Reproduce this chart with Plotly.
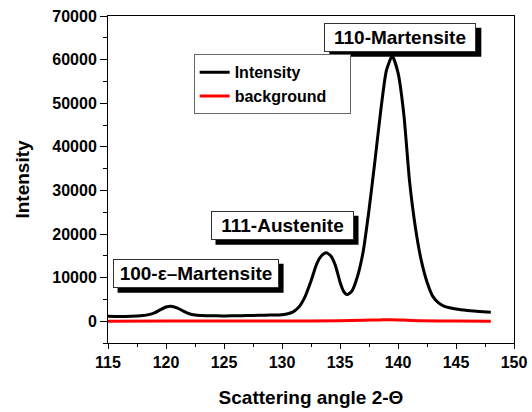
import plotly.graph_objects as go

angle = [115, 116, 117, 117.5, 118, 118.5, 119, 119.5, 120, 120.4, 121, 121.5, 122, 122.5,
         123, 124, 125, 126, 127, 128, 129, 130, 130.5, 131, 131.5, 132, 132.5, 133, 133.4,
         133.8, 134.2, 134.6, 135, 135.3, 135.6, 136, 136.5, 137, 137.5, 138, 138.5, 139,
         139.5, 140, 140.5, 141, 141.5, 142, 142.5, 143, 143.5, 144, 145, 146, 147, 148]
intensity = [1150, 1100, 1150, 1200, 1300, 1500, 1900, 2600, 3250, 3450, 3000, 2300, 1700, 1400,
             1300, 1250, 1200, 1250, 1300, 1350, 1400, 1500, 1700, 2200, 3400, 5700, 9200, 13200, 15000,
             15700, 15000, 12800, 9000, 6900, 6100, 6800, 10200, 16000, 25500, 36500, 48000, 57500,
             60800, 57000, 47500, 32000, 21500, 14000, 9000, 5700, 4200, 3400, 2800, 2450, 2200, 2050]

bg_angle = [115, 120, 125, 130, 135, 137, 138.5, 139.5, 140.5, 142, 145, 148]
background = [0, 20, 30, 50, 100, 200, 300, 350, 250, 100, 30, 0]

labels = ["110-Martensite", "111-Austenite", "100-\u03b5\u2013Martensite"]
label_x = [140.2, 130.0, 122.55]
label_y = [65100, 22000, 11000]
label_w = [144, 135, 158]

FONT = "Liberation Sans, Arial, sans-serif"
BOX_H = 21
PAD = 3
SHADOW = 5

fig = go.Figure()
fig.add_trace(go.Scatter(x=angle, y=intensity, mode="lines", name="Intensity",
                         line=dict(color="black", width=3, shape="spline", smoothing=0.6)))
fig.add_trace(go.Scatter(x=bg_angle, y=background, mode="lines",
                         name="background\u00a0\u00a0\u00a0\u00a0",
                         line=dict(color="red", width=3, shape="spline", smoothing=0.6)))

for t, x, y, w in zip(labels, label_x, label_y, label_w):
    half_w = w / 2 + PAD + 1
    half_h = BOX_H / 2 + PAD + 1
    # drop shadow behind the label box
    fig.add_shape(type="rect", xref="x", yref="y", xsizemode="pixel", ysizemode="pixel",
                  xanchor=x, yanchor=y,
                  x0=-half_w + SHADOW, x1=half_w + SHADOW,
                  y0=-half_h - SHADOW, y1=half_h - SHADOW,
                  fillcolor="black", line=dict(width=0), layer="above")
    fig.add_annotation(x=x, y=y, text=t, showarrow=False,
                       font=dict(family=FONT, size=19, color="black", weight="bold"),
                       bgcolor="white", bordercolor="#333333", borderwidth=1, borderpad=PAD,
                       width=w, height=BOX_H)

fig.update_layout(
    width=532, height=412,
    margin=dict(l=108, r=18, t=16, b=69, autoexpand=False),
    paper_bgcolor="white", plot_bgcolor="white",
    font=dict(family=FONT, size=16, color="black", weight="bold"),
    showlegend=True,
    legend=dict(x=0.211, y=0.883, xanchor="left", yanchor="top",
                bordercolor="#666666", borderwidth=1, bgcolor="white",
                font=dict(family=FONT, size=16, color="black", weight="bold"),
                tracegroupgap=0),
    xaxis=dict(range=[115, 150], tick0=115, dtick=5, ticks="outside", ticklen=5,
               tickwidth=1, tickcolor="black", automargin=False,
               minor=dict(dtick=2.5, ticks="outside", ticklen=3, tickcolor="black"),
               showline=True, linecolor="black", linewidth=1, mirror=True,
               showgrid=False, zeroline=False,
               tickfont=dict(family=FONT, size=16, color="black", weight="bold"),
               title=dict(text="Scattering angle 2-\u0398", standoff=20,
                          font=dict(family=FONT, size=19, color="black", weight="bold"))),
    yaxis=dict(range=[-5000, 70000], tick0=0, dtick=10000, ticks="outside", ticklen=7,
               tickwidth=1, tickcolor="black", tickformat="d", automargin=False,
               minor=dict(dtick=5000, ticks="outside", ticklen=4, tickcolor="black"),
               showline=True, linecolor="black", linewidth=1, mirror=True,
               showgrid=False, zeroline=False,
               tickfont=dict(family=FONT, size=16, color="black", weight="bold"),
               title=dict(text="Intensity", standoff=17,
                          font=dict(family=FONT, size=19, color="black", weight="bold"))),
)

fig.write_html("out.html")
